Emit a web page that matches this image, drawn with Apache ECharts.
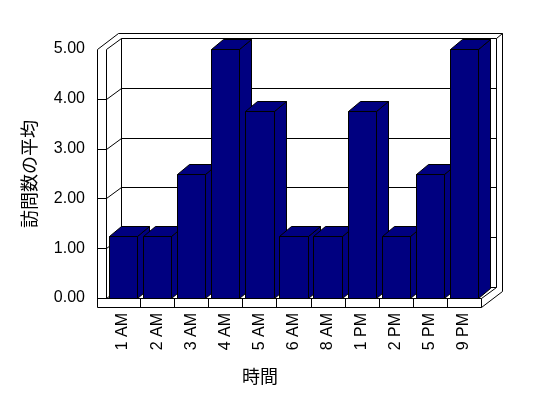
<!DOCTYPE html>
<html>
<head>
<meta charset="utf-8">
<script src="https://cdn.jsdelivr.net/npm/echarts@6/dist/echarts.min.js"></script>
<style>
html,body{margin:0;padding:0;background:#fff;}
#chart{width:548px;height:398px;}
</style>
</head>
<body>
<div id="chart"></div>
<script>
// ---- data ----
const categories = ['1 AM','2 AM','3 AM','4 AM','5 AM','6 AM','8 AM','1 PM','2 PM','5 PM','9 PM'];
const values = [1.25, 1.25, 2.5, 5, 3.75, 1.25, 1.25, 3.75, 1.25, 2.5, 5];
const yTicks = [0, 1, 2, 3, 4, 5];
const xTitle = '時間';
const yTitle = '訪問数の平均';

// ---- style constants ----
const BAR_COLOR = '#000080';
const FONT = '"Liberation Sans", Arial, sans-serif';
const CJK = '"Noto Sans CJK JP", sans-serif';
const WALL = 9;          // thickness of left wall / floor front faces
const G = [15, -11];     // offset to back-wall (grid) plane
const T = [21, -16];     // offset to outer back edge
const D = [12, -10];     // bar depth offset
const px = v => Math.round(v) + 0.5;

const lineStyle = { stroke: '#000', lineWidth: 1, fill: null };

function renderFrame(params, api) {
  const n = categories.length;
  const bw = api.size([1, 0])[0];
  const yMax = yTicks[yTicks.length - 1];
  const xL = px(api.coord([0, 0])[0] - bw / 2);
  const xR = px(api.coord([n - 1, 0])[0] + bw / 2);
  const yTop = px(api.coord([0, yMax])[1]);
  const yBot = px(api.coord([0, 0])[1]);
  const xW = xL - WALL, yF = yBot + WALL;
  const children = [];
  const line = (x1, y1, x2, y2) => children.push({
    type: 'line', shape: { x1, y1, x2, y2 }, style: lineStyle
  });
  // outer silhouette
  children.push({
    type: 'polygon',
    shape: { points: [
      [xW, yF], [xW, yTop], [xW + T[0], yTop + T[1]], [xR + T[0], yTop + T[1]],
      [xR + T[0], yF + T[1]], [xR, yF]
    ] },
    style: { fill: '#fff', stroke: '#000', lineWidth: 1 }
  });
  // back wall front face
  children.push({
    type: 'rect',
    shape: { x: xL + G[0], y: yTop + G[1], width: xR - xL, height: yBot - yTop },
    style: { fill: '#fff', stroke: '#000', lineWidth: 1 }
  });
  // left wall
  line(xL, yTop, xL, yBot);
  line(xL, yTop, xL + G[0], yTop + G[1]);
  // top right corner
  line(xR + G[0], yTop + G[1], xR + T[0], yTop + T[1]);
  // floor front face
  line(xW, yBot, xR, yBot);
  line(xR, yBot, xR, yF);
  line(xR, yBot, xR + G[0], yBot + G[1]);
  line(xL, yBot, xL + G[0], yBot + G[1]);
  // gridlines
  yTicks.forEach(t => {
    if (t === 0 || t === yMax) return;
    const y = px(api.coord([0, t])[1]);
    line(xW, y, xL, y);
    line(xL, y, xL + G[0], y + G[1]);
    line(xL + G[0], y + G[1], xR + G[0], y + G[1]);
  });
  // category dividers on floor front
  for (let i = 1; i < n; i++) {
    const x = px(api.coord([i, 0])[0] - bw / 2);
    line(x, yBot, x, yF);
  }
  return { type: 'group', children };
}

function renderBar(params, api) {
  const i = api.value(0), v = api.value(1);
  const bw = api.size([1, 0])[0];
  const c = api.coord([i, v]);
  const w = bw * 0.83;
  const xl = px(c[0] - w / 2), xr = px(c[0] + w / 2);
  const yt = px(c[1]);
  const y0 = px(api.coord([i, 0])[1]);
  const st = { fill: BAR_COLOR, stroke: '#000', lineWidth: 1 };
  return {
    type: 'group',
    children: [
      { type: 'polygon', shape: { points: [[xr, yt], [xr + D[0], yt + D[1]], [xr + D[0], y0 + D[1]], [xr, y0]] }, style: st },
      { type: 'polygon', shape: { points: [[xl, yt], [xl + D[0], yt + D[1]], [xr + D[0], yt + D[1]], [xr, yt]] }, style: st },
      { type: 'rect', shape: { x: xl, y: yt, width: xr - xl, height: y0 - yt }, style: st }
    ]
  };
}

const chart = echarts.init(document.getElementById('chart'), null, { renderer: 'canvas' });
chart.setOption({
  animation: false,
  backgroundColor: '#fff',
  grid: { left: 106, right: 67, top: 49, bottom: 100, containLabel: false },
  xAxis: {
    type: 'category',
    data: categories,
    axisLine: { show: false },
    axisTick: { show: false },
    splitLine: { show: false },
    axisLabel: { rotate: 90, interval: 0, margin: 15, color: '#000', fontSize: 16, fontFamily: FONT }
  },
  yAxis: {
    type: 'value',
    min: yTicks[0],
    max: yTicks[yTicks.length - 1],
    interval: 1,
    axisLine: { show: false },
    axisTick: { show: false },
    splitLine: { show: false },
    axisLabel: { margin: 21, color: '#000', fontSize: 16, fontFamily: FONT, formatter: v => v.toFixed(2) }
  },
  graphic: [
    { type: 'text', x: 260, y: 376, style: { text: xTitle, font: '18px ' + CJK, fill: '#000', align: 'center', verticalAlign: 'middle' } },
    { type: 'text', x: 29, y: 174, rotation: Math.PI / 2, style: { text: yTitle, font: '18px ' + CJK, fill: '#000', align: 'center', verticalAlign: 'middle' } }
  ],
  series: [
    { type: 'custom', renderItem: renderFrame, data: [[0, 0]], z: 1, silent: true },
    { type: 'custom', renderItem: renderBar, data: values.map((v, i) => [i, v]), z: 2 }
  ]
});
</script>
</body>
</html>
